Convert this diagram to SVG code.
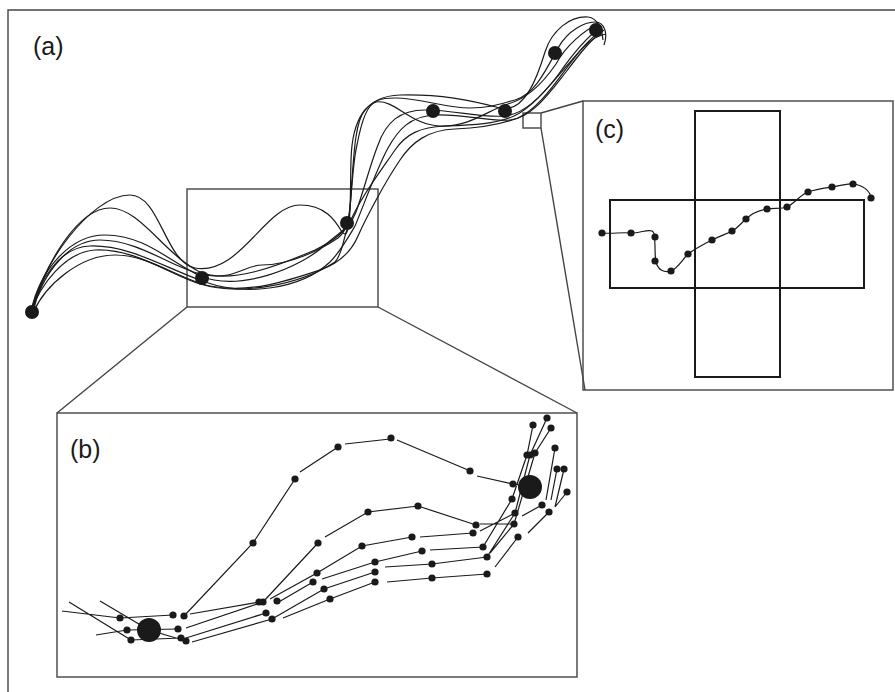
<svg xmlns="http://www.w3.org/2000/svg" width="895" height="692" viewBox="0 0 895 692">
<style>
.frame{fill:none;stroke:#444;stroke-width:1.4}
.cross{fill:none;stroke:#1a1a1a;stroke-width:2}
.traj{fill:none;stroke:#1a1a1a;stroke-width:1.2}
.seg{fill:none;stroke:#1a1a1a;stroke-width:1.2}
.dot{fill:#1a1a1a}
.lbl{font-family:"Liberation Sans",Arial,sans-serif;font-size:25px;fill:#1a1a1a}
</style>
<rect width="895" height="692" fill="#fff"/>
<g id="frames">
<path class="frame" d="M8,692 L8,10 L895,10"/>
<rect class="frame" x="187" y="189" width="191" height="118"/>
<rect class="frame" x="523" y="113" width="18" height="15"/>
<rect class="frame" x="57" y="413" width="520" height="264"/>
<rect class="frame" x="583" y="101" width="310" height="289"/>
<path class="frame" d="M187,307 L57,413 M378,307 L577,413 M541,113 L583,101 M541,128 L585,390"/>
</g>
<g id="labels">
<text class="lbl" x="33" y="55">(a)</text>
<text class="lbl" x="70" y="458">(b)</text>
<text class="lbl" x="595" y="138">(c)</text>
</g>
<g id="panel-a">
<g id="connectors-a">
<path class="traj" d="M32,312 C38,270 90,195 130,195 C160,195 165,262 195,268 C240,276 265,205 300,205 C325,205 335,220 342,232 C352,245 350,190 351,160 C352,120 365,96 400,95 C440,94 470,100 500,108 C525,114 538,75 545,52 C552,30 570,16 588,17 C598,18 602,30 603,40"/>
<path class="traj" d="M33,312 C45,260 80,208 110,208 C140,208 165,255 200,272 C230,285 280,265 315,250 C335,240 345,232 348,222 C352,200 352,165 357,145 C362,118 368,104 376,102 C395,99 410,125 440,126 C470,127 488,110 508,104 C530,98 545,80 556,64 C566,45 585,30 598,24"/>
<path class="traj" d="M31,311 C40,270 70,235 105,235 C145,235 170,262 200,276 C240,292 300,268 325,245 C340,232 350,228 356,212 C364,190 370,165 378,145 C386,122 400,110 425,110 C455,110 480,118 505,116 C525,114 543,95 558,75 C572,55 588,36 600,28"/>
<path class="traj" d="M32,313 C38,280 60,247 90,246 C130,245 165,268 205,282 C245,296 300,290 330,262 C340,252 348,238 355,226 C362,210 376,170 388,148 C398,130 410,116 435,115 C465,114 490,122 510,120 C532,118 550,92 566,72 C578,56 590,40 604,30"/>
<path class="traj" d="M31,312 C40,285 65,252 95,250 C135,248 170,275 200,284 C240,296 300,285 335,262 C342,255 343,240 347,230 C355,205 380,172 395,150 C406,134 420,127 445,126 C475,125 495,124 514,116 C535,106 552,82 572,60 C582,48 592,36 600,32"/>
<path class="traj" d="M33,313 C45,285 80,255 115,255 C150,255 180,280 210,286 C250,294 290,280 320,270 C340,263 352,250 358,236 C366,218 385,182 400,160 C412,142 428,130 455,129 C485,128 502,124 518,118 C540,108 557,80 576,56 C585,44 595,36 606,34"/>
<path class="traj" d="M32,312 C44,270 70,240 100,240 C140,240 175,270 205,275 C235,280 245,265 262,265 C290,265 320,250 338,238 C352,228 350,200 352,180 C354,150 356,120 365,110 C375,100 380,98 395,98 C420,98 445,108 470,108 C490,108 500,104 515,100 C535,94 546,70 558,48 C568,30 585,22 595,22 C605,22 608,34 604,45"/>
</g>
<g id="nodes-a">
<circle class="dot" cx="32" cy="312" r="7"/>
<circle class="dot" cx="202" cy="278" r="7"/>
<circle class="dot" cx="347" cy="223" r="7"/>
<circle class="dot" cx="433" cy="111" r="7"/>
<circle class="dot" cx="505" cy="111" r="7"/>
<circle class="dot" cx="555" cy="53" r="7"/>
<circle class="dot" cx="596" cy="30" r="7"/>
</g>
</g>
<g id="panel-b">
<g id="connectors-b">
<path class="seg" d="M62,611 L120,618 M69,602 L131,640 M100,601 L149,630 M96,635 L127,630
M120,618 L173,615 M127,630 L178,629 M131,640 L181,638 M149,630 L186,641
M184,616 L253,543 L295,479 M190,614 L259,602 M186,628 L263,602 M186,638 L266,613 M192,642 L272,619
M300,472 L335,449 M345,444 L390,439 M397,440 L468,470 M477,476 L513,484 L530,487
M263,602 L318,543 M325,537 L368,512 L418,506 L476,525
M270,599 L317,573 L362,546 L412,537 M420,537 L473,533
M277,603 L313,582 M322,579 L375,562 L422,551 M430,550 L483,547
M272,619 L324,589 L375,572 M385,567 L432,564 L487,557
M283,618 L330,599 L375,582 M387,582 L432,578 L487,574
M480,524 L513,524 M480,531 L515,513
M483,547 L512,499 L527,455 L533,425
M487,557 L515,513 L530,455 L547,418
M490,553 L514,524 L535,453 L551,428
M495,567 L518,537 M528,533 L549,512 M555,507 L567,492 M522,516 L542,505
M555,448 L546,500 M557,469 L551,500 M564,469 L555,507"/>
</g>
<g id="nodes-b">
<circle class="dot" cx="149" cy="630" r="12"/>
<circle class="dot" cx="530" cy="487" r="12"/>
<g class="dot">
<circle cx="120" cy="618" r="3.6"/><circle cx="127" cy="630" r="3.6"/><circle cx="131" cy="640" r="3.6"/>
<circle cx="173" cy="615" r="3.6"/><circle cx="184" cy="616" r="3.6"/><circle cx="178" cy="629" r="3.6"/>
<circle cx="181" cy="638" r="3.6"/><circle cx="186" cy="641" r="3.6"/>
<circle cx="253" cy="543" r="3.6"/><circle cx="295" cy="479" r="3.6"/>
<circle cx="259" cy="602" r="3.6"/><circle cx="263" cy="602" r="3.6"/><circle cx="277" cy="601" r="3.6"/>
<circle cx="266" cy="613" r="3.6"/><circle cx="272" cy="619" r="3.6"/>
<circle cx="318" cy="543" r="3.6"/><circle cx="317" cy="573" r="3.6"/><circle cx="313" cy="582" r="3.6"/>
<circle cx="324" cy="589" r="3.6"/><circle cx="330" cy="599" r="3.6"/>
<circle cx="338" cy="447" r="3.6"/><circle cx="391" cy="438" r="3.6"/><circle cx="470" cy="471" r="3.6"/><circle cx="513" cy="484" r="3.6"/>
<circle cx="368" cy="512" r="3.6"/><circle cx="418" cy="506" r="3.6"/><circle cx="476" cy="525" r="3.6"/>
<circle cx="362" cy="546" r="3.6"/><circle cx="412" cy="537" r="3.6"/><circle cx="473" cy="533" r="3.6"/>
<circle cx="375" cy="562" r="3.6"/><circle cx="422" cy="551" r="3.6"/><circle cx="483" cy="547" r="3.6"/>
<circle cx="375" cy="572" r="3.6"/><circle cx="432" cy="564" r="3.6"/><circle cx="487" cy="557" r="3.6"/>
<circle cx="375" cy="582" r="3.6"/><circle cx="432" cy="578" r="3.6"/><circle cx="487" cy="574" r="3.6"/>
<circle cx="512" cy="499" r="3.6"/><circle cx="515" cy="513" r="3.6"/><circle cx="514" cy="524" r="3.6"/><circle cx="518" cy="537" r="3.6"/>
<circle cx="542" cy="505" r="3.6"/><circle cx="549" cy="512" r="3.6"/><circle cx="567" cy="492" r="3.6"/>
<circle cx="557" cy="469" r="3.6"/><circle cx="564" cy="469" r="3.6"/><circle cx="555" cy="448" r="3.6"/>
<circle cx="533" cy="425" r="3.6"/><circle cx="547" cy="418" r="3.6"/><circle cx="551" cy="428" r="3.6"/>
<circle cx="527" cy="455" r="3.6"/><circle cx="530" cy="455" r="3.6"/><circle cx="535" cy="453" r="3.6"/>
</g>
</g>
</g>
<g id="panel-c">
<rect class="cross" x="695" y="111" width="85" height="266"/>
<rect class="cross" x="610" y="200" width="254" height="88"/>
<path class="traj" d="M602,233 C615,234 620,232 631,233 C640,233 648,229 652,231 C657,234 654,240 655,245 C655,252 655,258 656,262 C658,270 664,273 671,271 C678,268 682,260 688,254 C696,248 704,244 712,240 C720,236 726,234 732,231 C738,228 741,223 746,219 C752,213 760,210 767,209 C775,208 782,209 787,207 C795,203 800,195 808,192 C816,189 825,188 832,187 C840,186 847,183 853,184 C862,185 870,190 871,198"/>
<g class="dot">
<circle cx="602" cy="233" r="3.6"/><circle cx="631" cy="233" r="3.6"/><circle cx="655" cy="237" r="3.6"/>
<circle cx="655" cy="261" r="3.6"/><circle cx="671" cy="271" r="3.6"/><circle cx="688" cy="254" r="3.6"/>
<circle cx="712" cy="240" r="3.6"/><circle cx="732" cy="231" r="3.6"/><circle cx="746" cy="219" r="3.6"/>
<circle cx="767" cy="209" r="3.6"/><circle cx="787" cy="207" r="3.6"/><circle cx="808" cy="192" r="3.6"/>
<circle cx="832" cy="187" r="3.6"/><circle cx="853" cy="184" r="3.6"/><circle cx="871" cy="198" r="3.6"/>
</g>
</g>
</svg>
